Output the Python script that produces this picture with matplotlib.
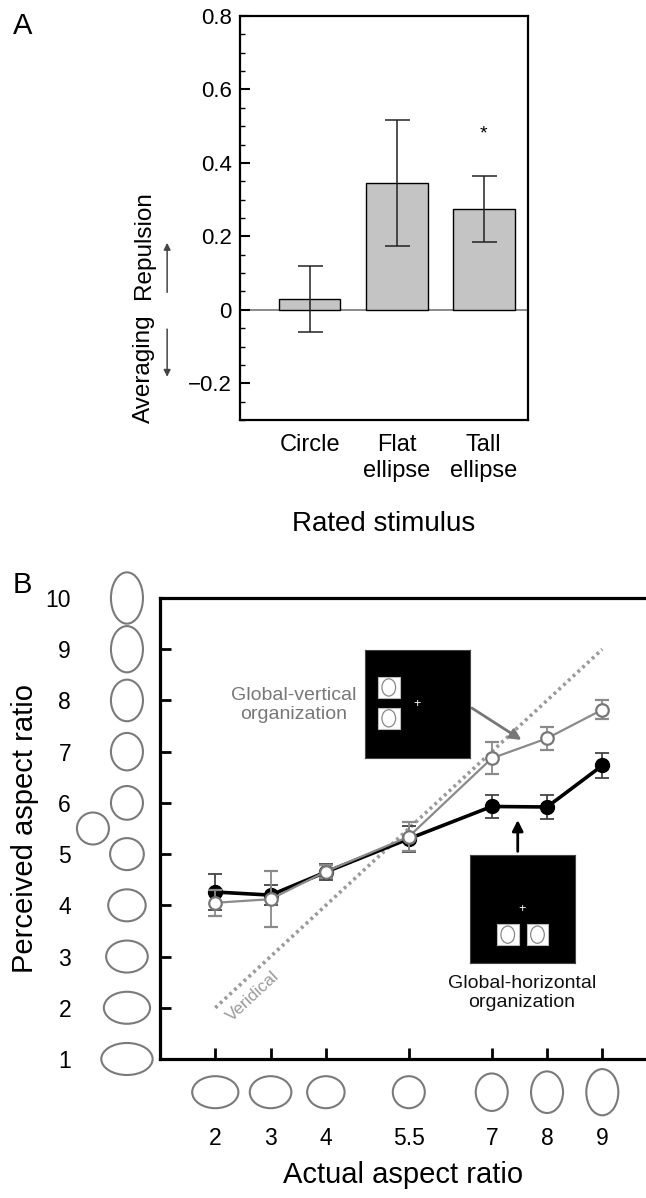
import matplotlib
matplotlib.use("Agg")
import matplotlib.pyplot as plt
import matplotlib.transforms as mtransforms
from matplotlib.patches import Ellipse, Rectangle
from matplotlib.ticker import MultipleLocator, FuncFormatter
import numpy as np

plt.rcParams['font.family'] = ['Liberation Sans', 'DejaVu Sans']

# ---- panel A data ----
stimuli = ['Circle', 'Flat\nellipse', 'Tall\nellipse']
repulsion = [0.03, 0.345, 0.275]
repulsion_err = [0.09, 0.172, 0.09]

# ---- panel B data ----
actual = [2, 3, 4, 5.5, 7, 8, 9]
actual_labels = ['2', '3', '4', '5.5', '7', '8', '9']
horiz_mean = [4.26, 4.2, 4.65, 5.3, 5.93, 5.92, 6.73]
horiz_err = [0.35, 0.2, 0.15, 0.25, 0.23, 0.23, 0.25]
vert_mean = [4.05, 4.12, 4.66, 5.34, 6.87, 7.26, 7.82]
vert_err = [0.25, 0.55, 0.13, 0.28, 0.31, 0.23, 0.18]
perceived_levels = [1, 2, 3, 4, 5, 6, 7, 8, 9, 10]

fig = plt.figure(figsize=(6.46, 11.98), dpi=100)
W, H = 646, 1198


def px_axes(l, t, r, b):
    return fig.add_axes([l / W, 1 - b / H, (r - l) / W, (b - t) / H])


# ================= panel A =================
axA = px_axes(240, 16, 528, 420)
xpos = np.arange(1, len(stimuli) + 1)
axA.bar(xpos, repulsion, width=0.71, color='#c4c4c4', edgecolor='black',
        linewidth=1.0, zorder=2)
axA.errorbar(xpos, repulsion, yerr=repulsion_err, fmt='none', ecolor='#222222',
             elinewidth=1.1, capsize=9, capthick=1.1, zorder=3)
axA.axhline(0, color='#777777', lw=1.2, zorder=1)
axA.set_xlim(0.2, 3.51)
axA.set_ylim(-0.3, 0.8)
axA.set_xticks(xpos)
axA.set_xticklabels(stimuli, fontsize=17, linespacing=1.25)
axA.tick_params(axis='x', length=0, pad=10)
axA.yaxis.set_major_locator(MultipleLocator(0.2))
axA.yaxis.set_minor_locator(MultipleLocator(0.05))
axA.yaxis.set_major_formatter(FuncFormatter(
    lambda v, p: '0' if abs(v) < 1e-9 else ('%.1f' % v).replace('-', '\u2212')))
axA.tick_params(axis='y', which='major', direction='in', length=7, width=1.5,
                labelsize=16, pad=6)
axA.tick_params(axis='y', which='minor', direction='in', length=3.5, width=1)
for s in axA.spines.values():
    s.set_linewidth(1.6)
axA.set_xlabel('Rated stimulus', fontsize=20, labelpad=21)
axA.text(3, 0.48, '*', ha='center', va='center', fontsize=14)

# custom y label with direction arrows
yt = axA.get_yaxis_transform()
axA.text(-0.335, 0.175, 'Repulsion', rotation=90, ha='center', va='center',
         fontsize=17.5, transform=yt)
axA.text(-0.335, -0.16, 'Averaging', rotation=90, ha='center', va='center',
         fontsize=17.5, transform=yt)
axA.annotate('', xy=(-0.253, 0.19), xytext=(-0.253, 0.04), xycoords=yt,
             textcoords=yt, annotation_clip=False,
             arrowprops=dict(arrowstyle='-|>', color='#444444', lw=1.1,
                             mutation_scale=10))
axA.annotate('', xy=(-0.253, -0.19), xytext=(-0.253, -0.045), xycoords=yt,
             textcoords=yt, annotation_clip=False,
             arrowprops=dict(arrowstyle='-|>', color='#444444', lw=1.1,
                             mutation_scale=10))
fig.text(13 / W, 1 - 34 / H, 'A', fontsize=21)

# ================= panel B =================
axB = px_axes(160, 598, 646, 1059)
axB.plot([2, 9], [2, 9], color='#9a9a9a', lw=2.6, linestyle=(0, (0.8, 1.0)),
         zorder=1)
axB.errorbar(actual, horiz_mean, yerr=horiz_err, color='black', lw=2.6,
             marker='o', ms=10, mfc='black', mec='black', ecolor='#444444',
             elinewidth=1.3, capsize=5, capthick=1.3, zorder=3)
axB.errorbar(actual, vert_mean, yerr=vert_err, color='#8a8a8a', lw=1.6,
             marker='o', ms=9, mfc='white', mec='#777777', mew=1.6,
             ecolor='#8a8a8a', elinewidth=1.3, capsize=5, capthick=1.3,
             zorder=4)
axB.set_xlim(1, 9.79)
axB.set_ylim(1, 10)
axB.set_xticks(actual)
axB.set_xticklabels(actual_labels)
axB.set_yticks(perceived_levels)
axB.tick_params(axis='both', direction='in', length=8, width=2, labelsize=16.5)
axB.tick_params(axis='x', pad=49)
axB.tick_params(axis='y', pad=64)
axB.spines['right'].set_visible(False)
for k in ['left', 'bottom', 'top']:
    axB.spines[k].set_linewidth(2.3)
axB.set_xlabel('Actual aspect ratio', fontsize=21, labelpad=8)
axB.set_ylabel('Perceived aspect ratio', fontsize=21, labelpad=5)
fig.text(13 / W, 1 - 593 / H, 'B', fontsize=21)

axB.text(2.68, 2.22, 'Veridical', rotation=43, ha='center', va='center',
         fontsize=12.5, color='#9a9a9a')
fig.text(294 / W, 1 - 705 / H, 'Global-vertical\norganization', ha='center',
         va='center', fontsize=14, color='#777777', linespacing=1.15)
fig.text(522 / W, 1 - 993 / H, 'Global-horizontal\norganization', ha='center',
         va='center', fontsize=14, color='#111111', linespacing=1.15)

# arrows from the display insets to the curves
axB.annotate('', xy=(7.58, 7.2), xytext=(6.6, 7.88), annotation_clip=False,
             arrowprops=dict(arrowstyle='-|>', color='#777777', lw=2,
                             mutation_scale=16))
axB.annotate('', xy=(7.47, 5.72), xytext=(7.47, 5.0), annotation_clip=False,
             arrowprops=dict(arrowstyle='-|>', color='black', lw=2,
                             mutation_scale=16))


def stim_ellipse(x, y, v, xtrans):
    # stimulus icon; minor axis 0.32 in, elongation grows with |v - 5.5|
    major = 0.32 * np.exp(0.105 * abs(v - 5.5))
    w, h = (major, 0.32) if v < 5.5 else (0.32, major)
    tr = fig.dpi_scale_trans + mtransforms.ScaledTranslation(x, y, xtrans)
    axB.add_patch(Ellipse((0, 0), w, h, transform=tr, fill=False,
                          edgecolor='#7a7a7a', lw=1.5, clip_on=False))


left_tr = mtransforms.blended_transform_factory(axB.transAxes, axB.transData)
for v in perceived_levels:
    stim_ellipse(-0.068, v, v, left_tr)
stim_ellipse(-0.138, 5.5, 5.5, left_tr)
bottom_tr = mtransforms.blended_transform_factory(axB.transData, axB.transAxes)
for v in actual:
    stim_ellipse(v, -0.072, v, bottom_tr)


def display_inset(l, t, squares):
    ax = px_axes(l, t, l + 105, t + 108)
    ax.set_facecolor('black')
    ax.set_xlim(0, 1)
    ax.set_ylim(0, 1)
    ax.set_xticks([])
    ax.set_yticks([])
    for s in ax.spines.values():
        s.set_color('#444444')
    for (sx, sy) in squares:
        ax.add_patch(Rectangle((sx, sy), 0.205, 0.195, facecolor='white',
                               edgecolor='#bbbbbb', lw=0.8))
        ax.add_patch(Ellipse((sx + 0.1025, sy + 0.0975), 0.13, 0.16,
                             fill=False, edgecolor='#888888', lw=0.9))
    ax.text(0.5, 0.5, '+', color='white', ha='center', va='center', fontsize=9)
    return ax


display_inset(365, 650, [(0.124, 0.556), (0.124, 0.27)])
display_inset(470, 855, [(0.257, 0.165), (0.54, 0.165)])

fig.savefig('out.png', dpi=100)
